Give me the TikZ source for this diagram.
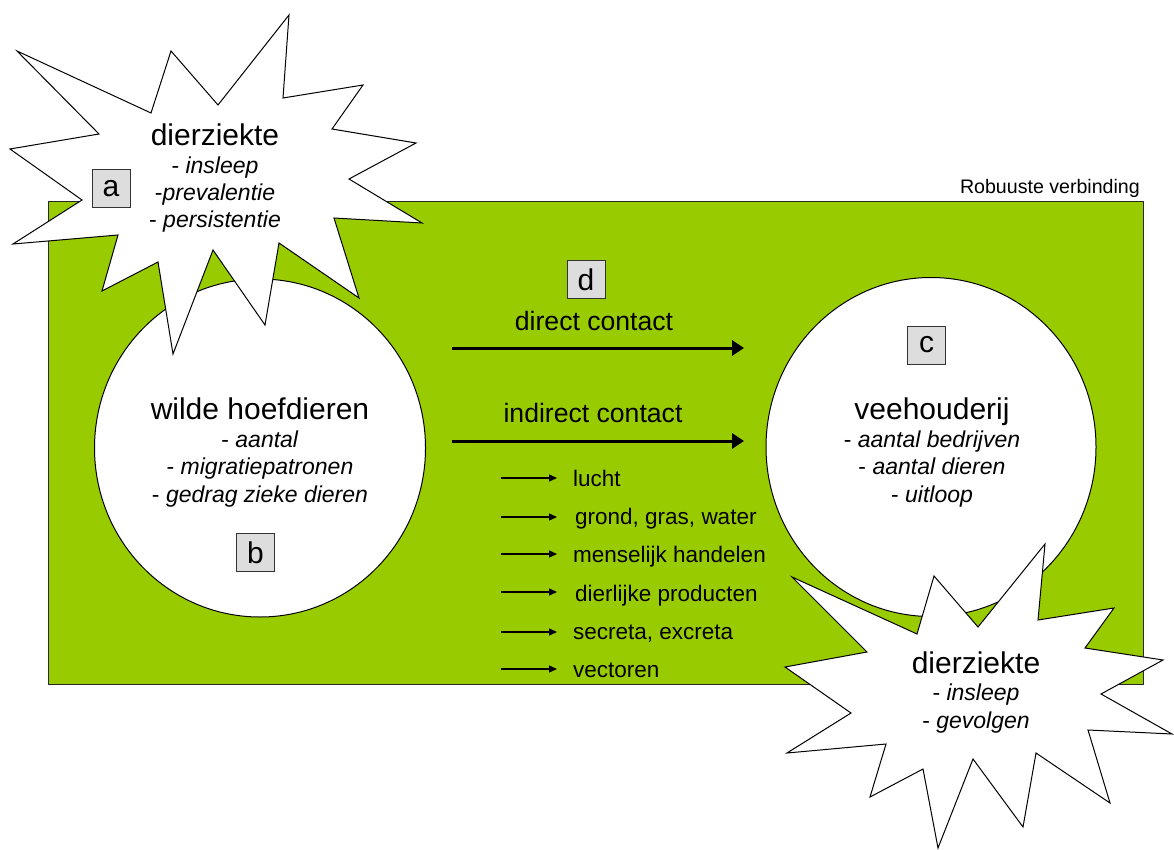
\documentclass[tikz,border=0pt]{standalone}
\usepackage{fontspec}
\setmainfont{Liberation Sans}
\usetikzlibrary{arrows.meta,shapes.geometric}
\definecolor{gras}{HTML}{99CC00}
\definecolor{vak}{HTML}{DDDDDD}
\tikzset{
  veld/.style={draw=black!85, fill=gras, line width=1pt},
  kring/.style={ellipse, draw=black, fill=white, line width=1pt, inner sep=0pt},
  ster/.style={draw=black, fill=white, line width=1pt, line join=miter},
  letterbox/.style={draw=black!80, fill=vak, line width=1pt, minimum width=38pt, minimum height=38pt, inner sep=0pt, font=\fontsize{30}{36}\selectfont},
  kop/.style={anchor=base, align=center, inner sep=0pt, font=\fontsize{23}{27.4}\selectfont},
  pijl/.style={-{Triangle[length=12pt,width=15pt]}, line width=3pt},
  pijltje/.style={-{Triangle[length=8pt,width=7pt]}, line width=1.3pt},
  route/.style={anchor=base west, inner sep=0pt, font=\fontsize{22.5}{27}\selectfont},
}
\newcommand{\grootkop}[1]{{\fontsize{30}{36}\selectfont #1}}
\begin{document}
\begin{tikzpicture}[x=1pt,y=-1pt]
        \useasboundingbox (0,0) rectangle (1174,850);

        \draw[veld] (48,202) rectangle (1143,684);
        \node[anchor=base east, inner sep=0pt, font=\fontsize{19.6}{24}\selectfont] (titel) at (1140,194) {Robuuste verbinding};

        \node[kring, minimum width=331pt, minimum height=338pt] (wild) at (260,448) {};
        \node[kring, minimum width=330pt, minimum height=339pt] (vee) at (931,447) {};

        % dierziekte boven links
        \draw[ster] (17,51) -- (151,113) -- (171,51) -- (218,105) -- (289,15) -- (283,98)
            -- (363,85) -- (332,129) -- (416,143) -- (349,179) -- (422,223) -- (334,218)
            -- (359,298) -- (279,243) -- (265,325) -- (213,250) -- (173,354) -- (158,262)
            -- (102,291) -- (118,235) -- (13,244) -- (82,200) -- (10,149) -- (99,134) -- cycle;

        % dierziekte onder rechts
        \draw[ster] (792,577) -- (917,634) -- (934,576) -- (978,627) -- (1045,544) -- (1038,620)
            -- (1114,608) -- (1085,648) -- (1163,660) -- (1101,694) -- (1172,734) -- (1088,730)
            -- (1110,803) -- (1036,753) -- (1023,827) -- (973,759) -- (938,848) -- (923,769)
            -- (870,797) -- (886,744) -- (787,753) -- (851,713) -- (785,667) -- (867,652) -- cycle;

        % base = baseline of the last line
        \node[kop] (ziekteA) at (215,228) {\grootkop{dierziekte}\\ - \textit{insleep}\\ -\textit{prevalentie}\\ - \textit{persistentie}};
        \node[kop] (ziekteB) at (976,728) {\grootkop{dierziekte}\\ - \textit{insleep}\\ - \textit{gevolgen}};
        \node[kop] (wildtxt) at (260,502) {\grootkop{wilde hoefdieren}\\ - \textit{aantal}\\ - \textit{migratiepatronen}\\ - \textit{gedrag zieke dieren}};
        \node[kop] (veetxt) at (932,502) {\grootkop{veehouderij}\\ - \textit{aantal bedrijven}\\ - \textit{aantal dieren}\\ - \textit{uitloop}};

        \node[letterbox] (a) at (111,189) {a};
        \node[letterbox] (b) at (255.5,552.5) {b};
        \node[letterbox] (c) at (926.5,345) {c};
        \node[letterbox] (d) at (586,279.5) {d};

        \node[anchor=base, inner sep=0pt, font=\fontsize{26.6}{32}\selectfont] (direct) at (594,330) {direct contact};
        \coordinate (directA) at (452,348);
        \coordinate (directB) at (744,348);
        \draw[pijl] (directA) -- (directB);

        \node[anchor=base, inner sep=0pt, font=\fontsize{26.6}{32}\selectfont] (indirect) at (593,422) {indirect contact};
        \coordinate (indirectA) at (452,441);
        \coordinate (indirectB) at (744,441);
        \draw[pijl] (indirectA) -- (indirectB);

        \node[route] (lucht) at (573,486) {lucht};
        \coordinate (luchtA) at (501,478);
        \coordinate (luchtB) at (557,478);
        \draw[pijltje] (luchtA) -- (luchtB);

        \node[route] (grond) at (575,524) {grond, gras, water};
        \coordinate (grondA) at (501,517);
        \coordinate (grondB) at (557,517);
        \draw[pijltje] (grondA) -- (grondB);

        \node[route] (mens) at (573,562) {menselijk handelen};
        \coordinate (mensA) at (501,554);
        \coordinate (mensB) at (557,554);
        \draw[pijltje] (mensA) -- (mensB);

        \node[route] (product) at (575,601) {dierlijke producten};
        \coordinate (productA) at (501,592);
        \coordinate (productB) at (557,592);
        \draw[pijltje] (productA) -- (productB);

        \node[route] (secreta) at (573,639) {secreta, excreta};
        \coordinate (secretaA) at (501,632);
        \coordinate (secretaB) at (557,632);
        \draw[pijltje] (secretaA) -- (secretaB);

        \node[route] (vector) at (573,677) {vectoren};
        \coordinate (vectorA) at (501,669);
        \coordinate (vectorB) at (557,669);
        \draw[pijltje] (vectorA) -- (vectorB);

    \end{tikzpicture}
\end{document}
